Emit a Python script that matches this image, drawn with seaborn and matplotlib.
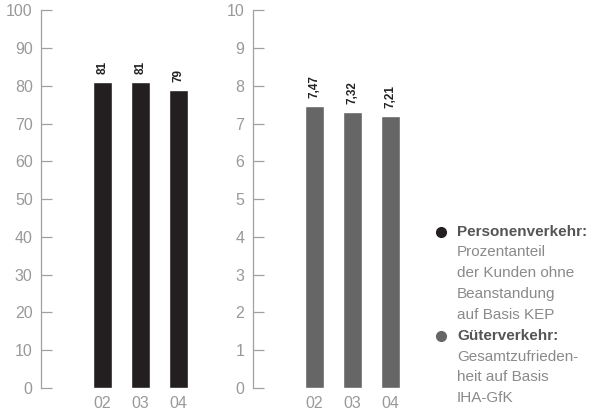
import matplotlib
matplotlib.use("Agg")
import matplotlib.pyplot as plt
from matplotlib.lines import Line2D
import seaborn as sns
import pandas as pd

# Jahre und Werte
years = ["02", "03", "04"]
personen = [81, 81, 79]          # Prozentanteil Kunden ohne Beanstandung
gueter = [7.47, 7.32, 7.21]       # Gesamtzufriedenheit

personen_ticks = [0, 10, 20, 30, 40, 50, 60, 70, 80, 90, 100]
gueter_ticks = [0, 1, 2, 3, 4, 5, 6, 7, 8, 9, 10]

legend_entries = [
    ("Personenverkehr:", ["Prozentanteil", "der Kunden ohne", "Beanstandung", "auf Basis KEP"]),
    ("Güterverkehr:", ["Gesamtzufrieden-", "heit auf Basis", "IHA-GfK"]),
]

dark = "#231f20"
grey_bar = "#666666"
axis_grey = "#a0a0a0"
label_grey = "#999999"

sns.set_theme(style="white")
plt.rcParams["font.family"] = ["Liberation Sans", "DejaVu Sans"]

W, H = 591, 411
fig = plt.figure(figsize=(W / 100, H / 100), dpi=100)


def px_axes(left, right, top, bottom):
    return fig.add_axes([left / W, 1 - bottom / H, (right - left) / W, (bottom - top) / H])


def style_axis(ax, ticks, ymax, x_left):
    ax.set_ylim(0, ymax)
    ax.set_xlim(x_left, 2.57)
    ax.set_yticks(ticks)
    ax.set_yticklabels([str(t) for t in ticks])
    for s in ["top", "right", "bottom"]:
        ax.spines[s].set_visible(False)
    ax.spines["left"].set_color(axis_grey)
    ax.spines["left"].set_linewidth(0.9)
    ax.tick_params(axis="y", left=True, direction="in", length=8, width=0.9, color=axis_grey,
                   labelcolor=label_grey, labelsize=11.5, pad=6)
    ax.tick_params(axis="x", bottom=False, length=0, labelcolor=label_grey, labelsize=11.5, pad=6)
    ax.set_xlabel("")
    ax.set_ylabel("")
    ax.grid(False)
    ax.set_facecolor("none")


df_p = pd.DataFrame({"Jahr": years, "Wert": personen})
df_g = pd.DataFrame({"Jahr": years, "Wert": gueter})

ax1 = px_axes(41, 200, 10.3, 388)
sns.barplot(data=df_p, x="Jahr", y="Wert", color=dark, width=0.5, saturation=1, ax=ax1)
style_axis(ax1, personen_ticks, 100, -1.62)
ax1.bar_label(ax1.containers[0], labels=[f"{v:d}" for v in personen], rotation=90,
              padding=5.5, fontsize=8.5, fontweight="bold", color="#222222")

ax2 = px_axes(252.5, 412, 10.3, 388)
sns.barplot(data=df_g, x="Jahr", y="Wert", color=grey_bar, width=0.5, saturation=1, ax=ax2)
style_axis(ax2, gueter_ticks, 10, -1.63)
ax2.bar_label(ax2.containers[0], labels=[f"{v:.2f}".replace(".", ",") for v in gueter],
              rotation=90, padding=5.5, fontsize=8.5, fontweight="bold", color="#222222")

# Legende mit Erläuterungen
bullet_colors = [dark, grey_bar]
line_y = 231.7
step = 20.8
for (title, lines), col in zip(legend_entries, bullet_colors):
    fig.add_artist(Line2D([441 / W], [1 - line_y / H], marker="o", markersize=7,
                          color=col, linestyle="none", transform=fig.transFigure))
    fig.text(457 / W, 1 - line_y / H, title, fontsize=11, fontweight="bold",
             color="#555555", va="center", ha="left")
    line_y += step
    for ln in lines:
        fig.text(457 / W, 1 - line_y / H, ln, fontsize=11, color="#8a8a8a",
                 va="center", ha="left")
        line_y += step

fig.savefig("out.png", dpi=100)
